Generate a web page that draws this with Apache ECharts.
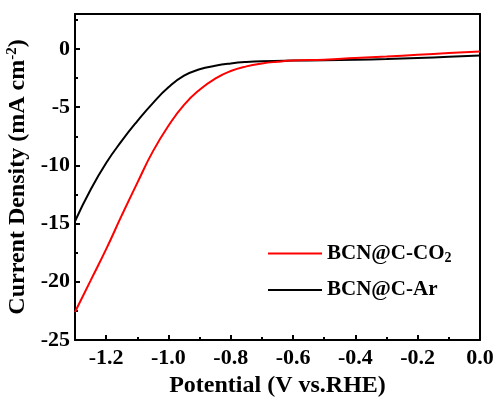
<!DOCTYPE html>
<html>
<head>
<meta charset="utf-8">
<script src="https://cdn.jsdelivr.net/npm/echarts@6/dist/echarts.min.js"></script>
<style>html,body{margin:0;padding:0;background:#fff;}#c{width:494px;height:398px;}</style>
</head>
<body>
<div id="c"></div>
<script>
// Data
const potentialCO2 = [-1.30,-1.25,-1.20,-1.15,-1.10,-1.05,-1.00,-0.95,-0.90,-0.85,-0.80,-0.75,-0.70,-0.65,-0.60,-0.50,-0.40,-0.30,-0.20,-0.10,0.00];
const currentCO2   = [-22.6,-19.9,-17.2,-14.3,-11.5,-8.8,-6.6,-4.8,-3.5,-2.55,-1.9,-1.5,-1.25,-1.1,-1.0,-0.92,-0.78,-0.65,-0.5,-0.36,-0.23];
const potentialAr  = [-1.30,-1.25,-1.20,-1.15,-1.10,-1.05,-1.00,-0.95,-0.90,-0.85,-0.80,-0.75,-0.70,-0.60,-0.50,-0.40,-0.30,-0.20,-0.10,0.00];
const currentAr    = [-14.8,-12.1,-9.8,-7.9,-6.2,-4.65,-3.3,-2.3,-1.75,-1.45,-1.25,-1.12,-1.05,-1.0,-0.98,-0.93,-0.87,-0.78,-0.68,-0.57];
const seriesNames  = ['BCN@C-CO2','BCN@C-Ar'];
const xTickLabels  = [-1.2,-1.0,-0.8,-0.6,-0.4,-0.2,0.0];
const xMinorTicks  = [-1.1,-0.9,-0.7,-0.5,-0.3,-0.1];
const yTickLabels  = [-25,-20,-15,-10,-5,0];
const yMinorTicks  = [-22.5,-17.5,-12.5,-7.5,-2.5,2.5];

const font = '"Liberation Serif","Times New Roman",serif';
const zip = (xs, ys) => xs.map((x, i) => [x, ys[i]]);

const chart = echarts.init(document.getElementById('c'), null, {renderer: 'canvas'});
const axisLine = {show: true, onZero: false, lineStyle: {color: '#000', width: 2}};
chart.setOption({
  animation: false,
  backgroundColor: '#fff',
  grid: {left: 75, right: 14, top: 14, bottom: 58, containLabel: false, outerBoundsMode: 'none'},
  legend: {
    data: seriesNames,
    left: 268, top: 243, orient: 'vertical', padding: 0,
    itemWidth: 54, itemHeight: 20, itemGap: 14,
    icon: 'path://M0,9 L54,9 L54,11 L0,11 Z',
    formatter: n => n === 'BCN@C-CO2' ? '{a|BCN@C-CO}{b|2}' : '{a|' + n + '}',
    textStyle: {
      fontFamily: font, fontWeight: 'bold', fontSize: 21, color: '#000',
      rich: {
        a: {fontFamily: font, fontWeight: 'bold', fontSize: 21, color: '#000'},
        b: {fontFamily: font, fontWeight: 'bold', fontSize: 14, color: '#000', padding: [10, 0, 0, 0]}
      }
    }
  },
  xAxis: [
    {
      type: 'value', min: -1.3, max: 0, interval: 0.1, position: 'bottom',
      name: 'Potential (V vs.RHE)', nameLocation: 'middle', nameGap: 33,
      nameTextStyle: {fontFamily: font, fontWeight: 'bold', fontSize: 24, color: '#000'},
      axisLine: axisLine,
      axisTick: {show: true, inside: true, length: 5, lineStyle: {width: 2, color: '#000'}, customValues: xTickLabels},
      axisLabel: {customValues: xTickLabels, formatter: v => v.toFixed(1), fontFamily: font, fontWeight: 'bold', fontSize: 22, color: '#000', margin: 7},
      splitLine: {show: false}
    },
    {
      type: 'value', min: -1.3, max: 0, interval: 0.1, position: 'bottom',
      axisLine: {show: false, onZero: false},
      axisTick: {show: true, inside: true, length: 3, lineStyle: {width: 2, color: '#000'}, customValues: xMinorTicks},
      axisLabel: {show: false}, splitLine: {show: false}
    },
    {
      type: 'value', min: -1.3, max: 0, position: 'top',
      axisLine: axisLine, axisTick: {show: false}, axisLabel: {show: false}, splitLine: {show: false}
    }
  ],
  yAxis: [
    {
      type: 'value', min: -25, max: 3, interval: 5, position: 'left',
      name: '{a|Current Density (mA cm}{s|-2}{a|)}', nameLocation: 'middle', nameGap: 42,
      nameTextStyle: {
        fontFamily: font, fontWeight: 'bold', fontSize: 24, color: '#000',
        rich: {
          a: {fontFamily: font, fontWeight: 'bold', fontSize: 24, color: '#000'},
          s: {fontFamily: font, fontWeight: 'bold', fontSize: 15, color: '#000', padding: [0, 0, 12, 0]}
        }
      },
      axisLine: axisLine,
      axisTick: {show: true, inside: true, length: 5, lineStyle: {width: 2, color: '#000'}, customValues: yTickLabels},
      axisLabel: {customValues: yTickLabels, fontFamily: font, fontWeight: 'bold', fontSize: 22, color: '#000', margin: 5},
      splitLine: {show: false}
    },
    {
      type: 'value', min: -25, max: 3, position: 'left',
      axisLine: {show: false, onZero: false},
      axisTick: {show: true, inside: true, length: 3, lineStyle: {width: 2, color: '#000'}, customValues: yMinorTicks},
      axisLabel: {show: false}, splitLine: {show: false}
    },
    {
      type: 'value', min: -25, max: 3, position: 'right',
      axisLine: axisLine, axisTick: {show: false}, axisLabel: {show: false}, splitLine: {show: false}
    }
  ],
  series: [
    {name: seriesNames[0], type: 'line', smooth: 0.5, showSymbol: false, data: zip(potentialCO2, currentCO2),
     lineStyle: {color: '#ff0000', width: 2}, itemStyle: {color: '#ff0000'}, z: 3},
    {name: seriesNames[1], type: 'line', smooth: 0.5, showSymbol: false, data: zip(potentialAr, currentAr),
     lineStyle: {color: '#000', width: 2}, itemStyle: {color: '#000'}, z: 2}
  ]
});
</script>
</body>
</html>
